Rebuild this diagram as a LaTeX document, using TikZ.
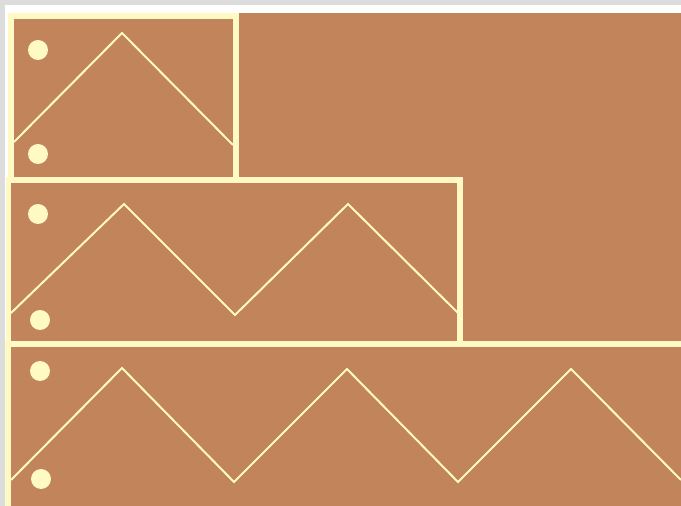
\documentclass[tikz,border=0pt]{standalone}
\usepackage{xcolor}
\usepackage{tikz}
\definecolor{boardbrown}{HTML}{C2845A}
\definecolor{boardcream}{HTML}{FFFAC4}
\definecolor{pagegray}{HTML}{DCDCDC}

\begin{document}
\begin{tikzpicture}[x=0.02cm,y=-0.02cm]
  \useasboundingbox (0,0) rectangle (681,506);
  \fill[pagegray] (0,0) rectangle (681,506);
  \fill[white] (5,5) rectangle (681,506);
  \fill[boardbrown] (8,13) rectangle (681,506);
  % frames
  \draw[boardcream,line width=0.12cm] (11,16) rectangle (236,180.5);
  \draw[boardcream,line width=0.12cm] (8.5,180.5) rectangle (460,344);
  \draw[boardcream,line width=0.12cm] (681,344) -- (8,344) -- (8,506);
  % zigzags
  \draw[boardcream,line width=0.04cm] (14,142) -- (122,33) -- (233,145);
  \draw[boardcream,line width=0.04cm] (11,313) -- (124,204) -- (235,315) -- (348,204) -- (458,313);
  \draw[boardcream,line width=0.04cm] (11,480) -- (122,368) -- (234,482) -- (347,369) -- (458,482) -- (571,369) -- (681,480);
  % holes
  \fill[boardcream] (38,50) circle[radius=0.2cm];
  \fill[boardcream] (38,154) circle[radius=0.2cm];
  \fill[boardcream] (38,214) circle[radius=0.2cm];
  \fill[boardcream] (40,320) circle[radius=0.2cm];
  \fill[boardcream] (40,371) circle[radius=0.2cm];
  \fill[boardcream] (41,479) circle[radius=0.2cm];
\end{tikzpicture}
\end{document}
